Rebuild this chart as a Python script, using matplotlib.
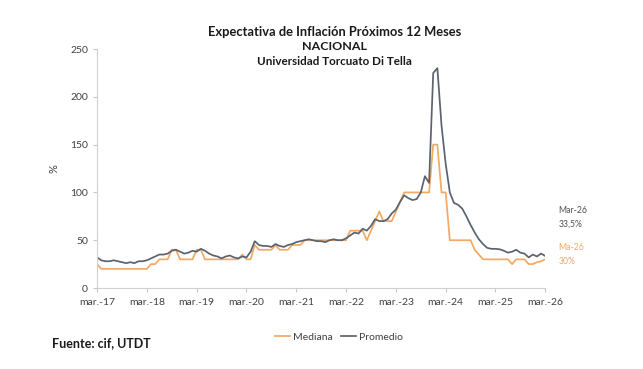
import matplotlib
matplotlib.use("Agg")
import matplotlib.pyplot as plt
import numpy as np

plt.rcParams['font.family'] = ['Lato', 'DejaVu Sans']

tick_labels = ["mar.-17", "mar.-18", "mar.-19", "mar.-20", "mar.-21",
               "mar.-22", "mar.-23", "mar.-24", "mar.-25", "mar.-26"]

# Monthly values, Mar-2017 .. Mar-2026
promedio = [
    32, 29, 28, 28, 29, 28, 27, 26, 27, 26, 28, 28,          # Mar17-Feb18
    29, 31, 33, 35, 35, 36, 39, 40, 38, 36, 37, 39,          # Mar18-Feb19
    38, 41, 39, 36, 34, 33, 31, 33, 34, 32, 31, 33,          # Mar19-Feb20
    32, 38, 49, 45, 44, 44, 43, 46, 44, 43, 45, 46,          # Mar20-Feb21
    48, 49, 50, 51, 50, 49, 49, 48, 50, 51, 50, 50,          # Mar21-Feb22
    52, 55, 58, 57, 62, 60, 65, 72, 70, 70, 72, 78,          # Mar22-Feb23
    82, 90, 97, 94, 92, 93, 100, 117, 110, 225, 230, 170,    # Mar23-Feb24
    130, 100, 89, 87, 83, 75, 66, 58, 51, 46, 42, 41,        # Mar24-Feb25
    41, 40.5, 39, 37, 38, 40, 37, 36, 32, 35, 33, 36,        # Mar25-Feb26
    33.5,                                                   # Mar26
]
mediana = [
    25, 20, 20, 20, 20, 20, 20, 20, 20, 20, 20, 20,
    20, 25, 25, 30, 30, 30, 40, 40, 30, 30, 30, 30,
    40, 40, 30, 30, 30, 30, 30, 30, 30, 30, 30, 35,
    30, 30, 45, 40, 40, 40, 40, 45, 40, 40, 40, 45,
    45, 45, 50, 50, 50, 50, 50, 50, 50, 50, 50, 50,
    50, 60, 60, 60, 60, 50, 60, 70, 80, 70, 70, 70,
    80, 90, 100, 100, 100, 100, 100, 100, 100, 150, 150, 100,
    100, 50, 50, 50, 50, 50, 50, 40, 35, 30, 30, 30,
    30, 30, 30, 30, 25, 30, 30, 30, 25, 25, 27, 28,
    30,
]

orange = '#F3A864'
gray = '#5A636E'

fig = plt.figure(figsize=(6.43, 3.69), dpi=100)
ax = fig.add_axes([0.151, 0.2195, 0.697, 0.6475])

x = np.arange(len(promedio))
ax.plot(x, mediana, color=orange, lw=1.25, label='Mediana')
ax.plot(x, promedio, color=gray, lw=1.25, label='Promedio')

ax.set_xlim(0, len(promedio) - 1)
ax.set_ylim(0, 250)
ax.set_yticks(range(0, 251, 50))
ax.set_xticks(np.arange(0, len(promedio), 12))
ax.set_xticklabels(tick_labels)

for s in ['top', 'right']:
    ax.spines[s].set_visible(False)
for s in ['left', 'bottom']:
    ax.spines[s].set_color('#D0D0D0')
    ax.spines[s].set_linewidth(0.8)
ax.tick_params(axis='both', colors='#C8C8C8', labelcolor='#404040',
               labelsize=7.5, length=3, width=0.8)
ax.tick_params(axis='x', pad=4)

ax.set_ylabel('%', fontsize=8, color='#404040', labelpad=8)

fig.text(0.52, 0.914, 'Expectativa de Inflación Próximos 12 Meses',
         ha='center', va='center', fontsize=9.3, fontweight='bold', color='#1a1a1a')
fig.text(0.52, 0.873, 'NACIONAL', ha='center', va='center',
         fontsize=8.9, fontweight='bold', color='#1a1a1a')
fig.text(0.52, 0.833, 'Universidad Torcuato Di Tella', ha='center', va='center',
         fontsize=8.4, fontweight='bold', color='#1a1a1a')

ax.annotate('Mar-26\n33,5%', xy=(1.03, 0.296), xycoords='axes fraction',
            fontsize=6.2, color='#505050', ha='left', va='center', linespacing=1.7)
ax.annotate('Ma-26\n30%', xy=(1.03, 0.142), xycoords='axes fraction',
            fontsize=6.2, color=orange, ha='left', va='center', linespacing=1.7)

fig.legend(loc='center', bbox_to_anchor=(0.527, 0.087), ncol=2, frameon=False,
           fontsize=7.5, handlelength=1.4, handletextpad=0.3, columnspacing=0.8,
           labelcolor='#404040')

fig.text(0.081, 0.071, 'Fuente: cif, UTDT', ha='left', va='center',
         fontsize=9, fontweight='bold', color='#1a1a1a')

fig.savefig('out.png', dpi=100)
